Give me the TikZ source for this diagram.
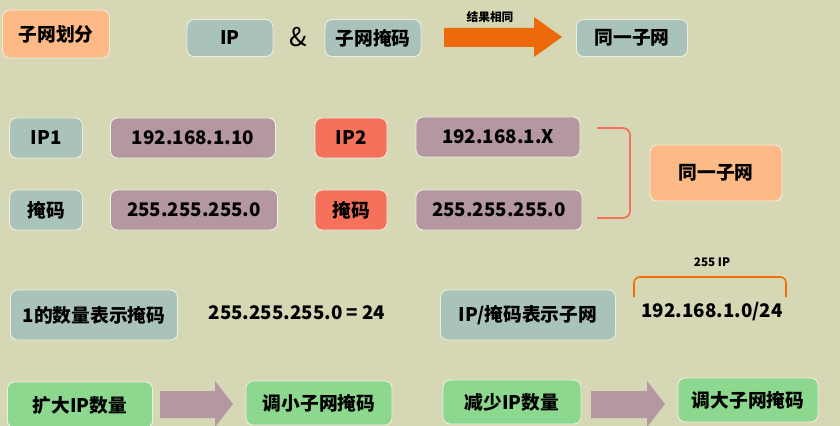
\documentclass[tikz,border=0pt]{standalone}
\usepackage{fontspec}
\setmainfont{Noto Sans CJK SC}
\definecolor{bgc}{HTML}{D5D7B5}
\definecolor{tealc}{HTML}{A9C2BA}
\definecolor{purplec}{HTML}{B497A0}
\definecolor{redc}{HTML}{F5715B}
\definecolor{orangec}{HTML}{FDB986}
\definecolor{greenc}{HTML}{8CD88E}
\definecolor{arrowc}{HTML}{EC6A0A}
\tikzset{
    box/.style={rounded corners=6pt, draw=white!60!bgc, line width=0.8pt, align=center,
        font=\bfseries\fontsize{16}{18}\selectfont, inner sep=0pt},
    tealbox/.style={box, fill=tealc},
    purplebox/.style={box, fill=purplec},
    redbox/.style={box, fill=redc},
    orangebox/.style={box, fill=orangec},
    greenbox/.style={box, fill=greenc},
    plain/.style={font=\bfseries\fontsize{16}{18}\selectfont},
    small/.style={font=\bfseries\fontsize{10}{12}\selectfont},
}
\begin{document}
\begin{tikzpicture}[x=0.03cm, y=-0.03cm]
\fill[bgc] (0,0) rectangle (840,426);
\useasboundingbox (0,0) rectangle (840,426);

% top row
\node[orangebox, minimum width=107*0.03cm, minimum height=48*0.03cm] (split) at (56,34) {子网划分};
\node[tealbox, minimum width=86*0.03cm, minimum height=37*0.03cm] (ip) at (230,38) {IP};
\node[font=\fontsize{22}{24}\selectfont] (amp) at (298,37) {\&};
\node[tealbox, minimum width=96*0.03cm, minimum height=37*0.03cm] (mask) at (373,38) {子网掩码};
\node[tealbox, minimum width=111*0.03cm, minimum height=37*0.03cm] (same) at (632,38) {同一子网};
\fill[arrowc] (444,28) -- (534,28) -- (534,17) -- (562,37) -- (534,57) -- (534,47) -- (444,47) -- cycle;
\node[small] (reslabel) at (490,17) {结果相同};

% IP rows
\node[tealbox, minimum width=73*0.03cm, minimum height=40*0.03cm] (ipone) at (46,138) {IP1};
\node[purplebox, minimum width=165*0.03cm, minimum height=40*0.03cm] (ipone val) at (193,138) {192.168.1.10};
\node[redbox, minimum width=72*0.03cm, minimum height=40*0.03cm] (iptwo) at (351,138) {IP2};
\node[purplebox, minimum width=164*0.03cm, minimum height=40*0.03cm] (iptwo val) at (498,137) {192.168.1.X};
\node[tealbox, minimum width=73*0.03cm, minimum height=40*0.03cm] (maskone) at (46,210) {掩码};
\node[purplebox, minimum width=167*0.03cm, minimum height=40*0.03cm] (maskone val) at (194,210) {255.255.255.0};
\node[redbox, minimum width=72*0.03cm, minimum height=40*0.03cm] (masktwo) at (351,210) {掩码};
\node[purplebox, minimum width=166*0.03cm, minimum height=40*0.03cm] (masktwo val) at (499,210) {255.255.255.0};
\node[orangebox, minimum width=132*0.03cm, minimum height=56*0.03cm] (samenet) at (716,173) {同一子网};
\draw[redc, line width=1.5pt, rounded corners=6pt] (597,128) -- (630,128) -- (630,218) -- (597,218);

% notation row
\node[tealbox, minimum width=167*0.03cm, minimum height=50*0.03cm] (count) at (94,315) {1的数量表示掩码};
\node[plain] (eq) at (297,313) {255.255.255.0 = 24};
\node[tealbox, minimum width=175*0.03cm, minimum height=50*0.03cm] (cidr) at (528,315) {IP/掩码表示子网};
\node[plain] (net) at (712,312) {192.168.1.0/24};
\draw[arrowc!80!orange, line width=1.3pt, rounded corners=5pt] (634,297) -- (634,277) -- (786,277) -- (786,297);
\node[small] (range) at (712,262) {255 IP};

% bottom row
\node[greenbox, minimum width=145*0.03cm, minimum height=46*0.03cm] (more) at (80,405) {扩大IP数量};
\node[greenbox, minimum width=146*0.03cm, minimum height=44*0.03cm] (smaller) at (319,403) {调小子网掩码};
\node[greenbox, minimum width=138*0.03cm, minimum height=44*0.03cm] (less) at (512,402) {减少IP数量};
\node[greenbox, minimum width=140*0.03cm, minimum height=44*0.03cm] (bigger) at (748,400) {调大子网掩码};
\foreach \a/\b in {160/233, 591/665}
    \fill[purplec] (\a,391) -- (\b-18,391) -- (\b-18,381) -- (\b,404) -- (\b-18,427) -- (\b-18,418) -- (\a,418) -- cycle;
\end{tikzpicture}
\end{document}
